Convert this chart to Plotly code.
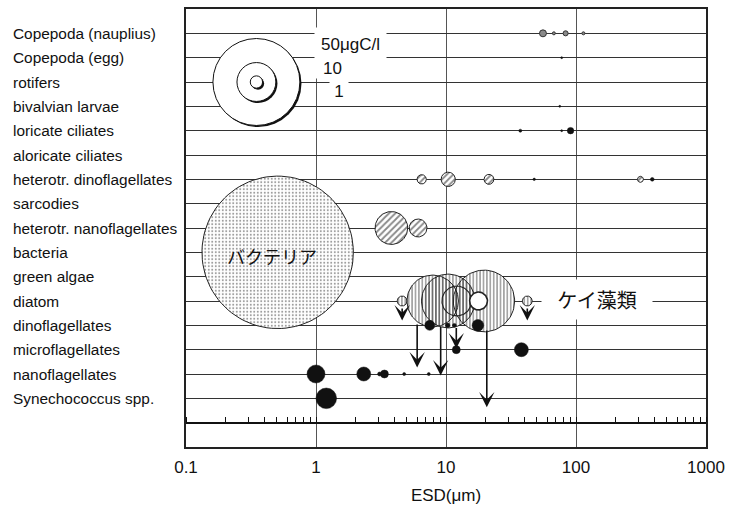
import math
import numpy as np
import plotly.graph_objects as go

# ---------------- data ----------------
categories = ["Copepoda (nauplius)", "Copepoda (egg)", "rotifers", "bivalvian larvae",
              "loricate ciliates", "aloricate ciliates", "heterotr. dinoflagellates", "sarcodies",
              "heterotr. nanoflagellates", "bacteria", "green algae", "diatom", "dinoflagellates",
              "microflagellates", "nanoflagellates", "Synechococcus spp."]

x_tick_vals = [0.1, 1, 10, 100, 1000]
x_tick_text = ["0.1", "1", "10", "100", "1000"]

# grey filled bubbles (ESD in um, carbon in ugC/l)
grey_cat = ["Copepoda (nauplius)"] * 4
grey_esd = [55.7, 67.6, 83.2, 114]
grey_conc = [0.32, 0.06, 0.17, 0.06]

# black filled bubbles
solid_cat = ["Copepoda (egg)", "bivalvian larvae",
             "loricate ciliates", "loricate ciliates", "loricate ciliates",
             "heterotr. dinoflagellates", "heterotr. dinoflagellates",
             "dinoflagellates", "dinoflagellates", "dinoflagellates", "dinoflagellates",
             "microflagellates", "microflagellates",
             "nanoflagellates", "nanoflagellates", "nanoflagellates", "nanoflagellates",
             "nanoflagellates", "nanoflagellates",
             "Synechococcus spp."]
solid_esd = [77.6, 75,
             37.3, 77.6, 90.8,
             47.7, 386,
             7.5, 10.3, 11.6, 17.6,
             12.0, 38,
             1.0, 2.33, 3.08, 3.36, 4.77, 7.37,
             1.2]
solid_conc = [0.02, 0.02,
              0.06, 0.02, 0.28,
              0.04, 0.09,
              0.66, 0.14, 0.1, 0.9,
              0.42, 1.3,
              2.14, 1.3, 0.1, 0.42, 0.06, 0.06,
              2.8]

# diagonally hatched bubbles
diag_cat = ["heterotr. dinoflagellates"] * 4 + ["heterotr. nanoflagellates"] * 2
diag_esd = [6.5, 10.4, 21.4, 313, 3.8, 6.1]
diag_conc = [0.58, 1.37, 0.66, 0.24, 7.2, 2.14]

# dotted bubble (bacteria)
dot_cat = ["bacteria"]
dot_esd = [0.507]
dot_conc = [155]

# vertically hatched bubbles (diatom)
vert_cat = ["diatom"] * 5
vert_esd = [4.6, 7.9, 10.4, 19.6, 42.2]
vert_conc = [0.66, 17.9, 19.3, 25.4, 0.66]

# open bubbles (diatom)
open_cat = ["diatom"] * 2
open_esd = [12.1, 17.8]
open_conc = [5.95, 2.14]

# arrows: ESD, start row position, end row position
arrow_esd = [4.6, 6.0, 9.1, 12.0, 20.6, 42.2]
arrow_from = [11.25, 11.9, 12.0, 12.05, 12.15, 11.25]
arrow_to = [11.8, 13.73, 14.06, 12.95, 15.37, 11.8]

# size legend
legend_conc = [50, 10, 1]
legend_esd = 0.348
legend_cat = "rotifers"

# ---------------- layout constants ----------------
W, H = 732, 511
ML, MR, MT, MB = 186, 20, 7, 64
PW, PH = W - ML - MR, H - MT - MB
X_RANGE = [-1, 3]
Y_RANGE = [17, -1]
PX_DEC = PW / (X_RANGE[1] - X_RANGE[0])
PX_ROW = PH / abs(Y_RANGE[0] - Y_RANGE[1])
K = 6.15  # px radius per sqrt(ugC/l)

row = {c: i for i, c in enumerate(categories)}


def radius(c):
    return K * math.sqrt(c)


def circle(esd, r_idx, conc, n=100):
    r = radius(conc)
    t = np.linspace(0, 2 * np.pi, n)
    xs = 10 ** (math.log10(esd) + r * np.cos(t) / PX_DEC)
    ys = r_idx + r * np.sin(t) / PX_ROW
    return xs, ys


fig = go.Figure()

NONE = "rgba(0,0,0,0)"


def add_disk(c, e, v, fill="white", line=NONE, lw=0):
    xs, ys = circle(e, row[c], v)
    fig.add_trace(go.Scatter(x=xs, y=ys, mode="lines", fill="toself", fillcolor=fill,
                             line=dict(color=line, width=lw), hoverinfo="skip"))


def add_pattern(cats, esds, concs, shape, size, solidity, fg="#111", bg="white", lw=1.0):
    for c, e, v in zip(cats, esds, concs):
        xs, ys = circle(e, row[c], v)
        fig.add_trace(go.Scatter(
            x=xs, y=ys, mode="lines", fill="toself",
            fillcolor=bg,
            fillpattern=dict(shape=shape, fgcolor=fg, bgcolor=bg,
                             size=size, solidity=solidity),
            line=dict(color="#222", width=lw), hoverinfo="skip"))


# dotted bacteria
add_pattern(dot_cat, dot_esd, dot_conc, ".", 3.5, 0.25, fg="#333", lw=1.0)
# diagonal hatched
add_pattern(diag_cat, diag_esd, diag_conc, "/", 4.5, 0.4)
# diatom: white underlay, then transparent hatching so every outline shows
for c, e, v in zip(vert_cat + open_cat, vert_esd + open_esd, vert_conc + open_conc):
    add_disk(c, e, v)
add_pattern(vert_cat, vert_esd, vert_conc, "|", 3.4, 0.38, bg=NONE, lw=1.0)
add_disk(open_cat[0], open_esd[0], open_conc[0], fill=NONE, line="#222", lw=1.1)
add_disk(open_cat[1], open_esd[1], open_conc[1], fill="white", line="#222", lw=1.6)

# grey bubbles
fig.add_trace(go.Scatter(
    x=grey_esd, y=[row[c] for c in grey_cat], mode="markers",
    marker=dict(size=[2 * radius(v) for v in grey_conc], sizemode="diameter",
                color="#8a8a8a", opacity=1, line=dict(color="#333", width=1)),
    hoverinfo="skip"))

# solid bubbles
fig.add_trace(go.Scatter(
    x=solid_esd, y=[row[c] for c in solid_cat], mode="markers",
    marker=dict(size=[max(2 * radius(v), 2) for v in solid_conc], sizemode="diameter",
                color="#111", opacity=1, line=dict(color="#111", width=0.5)),
    hoverinfo="skip"))

# size legend: shadowed concentric circles
dx = 10 ** (1.6 / PX_DEC)
dy = 1.6 / PX_ROW
for v in legend_conc:
    d = 2 * radius(v)
    fig.add_trace(go.Scatter(
        x=[legend_esd * dx], y=[row[legend_cat] + dy], mode="markers",
        marker=dict(size=d, color="#111", opacity=1, line=dict(width=0)), hoverinfo="skip"))
    fig.add_trace(go.Scatter(
        x=[legend_esd], y=[row[legend_cat]], mode="markers",
        marker=dict(size=d, color="white", opacity=1, line=dict(color="#111", width=1)),
        hoverinfo="skip"))

# invisible trace to anchor the inner axis
fig.add_trace(go.Scatter(x=[0.1, 1000], y=[16, 16], xaxis="x2", mode="markers",
                         marker=dict(opacity=0), hoverinfo="skip"))

FONT = "Liberation Sans, Arial, sans-serif"
JFONT = "Noto Sans CJK JP, sans-serif"

ann = []
# category labels (left aligned)
for c in categories:
    ann.append(dict(text=c, xref="paper", yref="y", x=(9 - ML) / PW, y=row[c],
                    xanchor="left", yanchor="middle", showarrow=False,
                    font=dict(family=FONT, size=15.4, color="#111")))

# arrows
for e, a0, a1 in zip(arrow_esd, arrow_from, arrow_to):
    lx = math.log10(e)
    ann.append(dict(text="", x=lx, y=a1, ax=lx, ay=a0, xref="x", yref="y",
                    axref="x", ayref="y", showarrow=True, arrowhead=3,
                    arrowsize=1.6, arrowwidth=1.6, arrowcolor="#111", standoff=0))


def pbox(text, x0, x1, y0, y1, size, family=FONT):
    return dict(text=text, xref="paper", yref="paper",
                x=((x0 + x1) / 2 - ML) / PW, y=(MT + PH - (y0 + y1) / 2) / PH,
                xanchor="center", yanchor="middle", width=x1 - x0, height=y1 - y0,
                bgcolor="white", showarrow=False, borderpad=0,
                font=dict(family=family, size=size, color="#111"))


ann.append(pbox("50μgC/l", 317, 388, 26, 58, 17))
ann.append(pbox("10", 317, 352, 57, 76, 17))
ann.append(dict(text="1", xref="paper", yref="paper", x=(331 - ML) / PW,
                y=(MT + PH - 89) / PH, xanchor="left", yanchor="middle", width=18, height=28,
                bgcolor="white", showarrow=False, borderpad=0,
                font=dict(family=FONT, size=17, color="#111")))
ann.append(pbox("ケイ藻類", 547, 657, 279, 318, 20, JFONT))
ann.append(dict(text="バクテリア", xref="paper", yref="paper", x=(273 - ML) / PW,
                y=(MT + PH - 255) / PH, xanchor="center", yanchor="middle",
                showarrow=False, font=dict(family=JFONT, size=18, color="#111")))

minor_vals = [m * 10 ** k for k in range(-1, 3) for m in range(1, 10)] + [1000]

fig.update_layout(
    width=W, height=H, margin=dict(l=ML, r=MR, t=MT, b=MB),
    plot_bgcolor="white", paper_bgcolor="white", showlegend=False,
    annotations=ann,
    xaxis=dict(type="log", range=X_RANGE, tickvals=x_tick_vals, ticktext=x_tick_text,
               showgrid=True, gridcolor="#555", gridwidth=1.3, zeroline=False,
               showline=True, mirror=True, linecolor="#222", linewidth=1.5, ticks="",
               ticklabelstandoff=4,
               tickfont=dict(family=FONT, size=17, color="#111"),
               title=dict(text="ESD(μm)", standoff=13,
                          font=dict(family=FONT, size=17, color="#111"))),
    xaxis2=dict(type="log", range=X_RANGE, overlaying="x", anchor="free",
                position=(Y_RANGE[0] - 16) / (Y_RANGE[0] - Y_RANGE[1]), side="top",
                tickvals=minor_vals, ticks="outside", ticklen=5, tickwidth=1.2,
                tickcolor="#111", showticklabels=False, showgrid=False, zeroline=False,
                showline=True, linecolor="#111", linewidth=2),
    yaxis=dict(range=Y_RANGE, tickvals=list(range(len(categories))), showticklabels=False,
               showgrid=True, gridcolor="#333", gridwidth=1.2, zeroline=False,
               showline=True, mirror=True, linecolor="#222", linewidth=1.5, ticks=""),
)

fig.write_html("out.html", config={"displayModeBar": False},
               post_script="document.body.style.margin='0';")
